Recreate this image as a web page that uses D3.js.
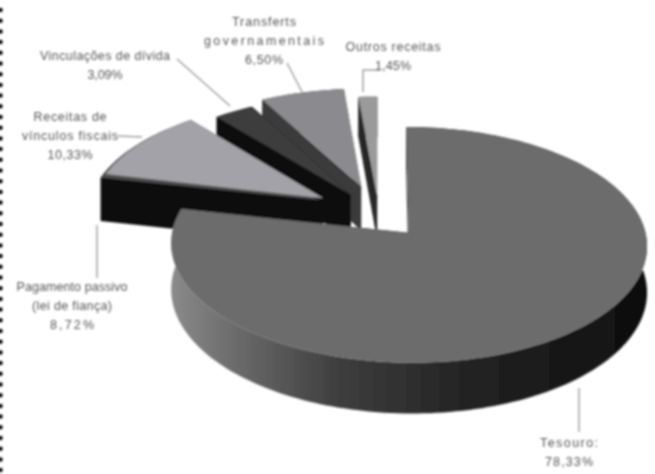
<!DOCTYPE html>
<html>
<head>
<meta charset="utf-8">
<script src="https://cdn.jsdelivr.net/npm/d3@7"></script>
<style>
  html, body { margin: 0; padding: 0; background: #fff; }
  text { font-family: "Liberation Sans", sans-serif; font-size: 12.5px; fill: #555; text-anchor: middle; }
</style>
</head>
<body>
<div id="wrapper"></div>
<script>
// values, they add up to more than 100 and the pie overlaps itself
const categories = [
  ["Outros receitas"],
  ["Transferts", "governamentais"],
  ["Vinculações de dívida"],
  ["Receitas de", "vínculos fiscais"],
  ["Pagamento passivo", "(lei de fiança)"],
  ["Tesouro:"],
]
const valueLabels = ["1,45%", "6,50%", "3,09%", "10,33%", "8,72%", "78,33%"]

// these four run back from 12 o'clock
const backValues = [1.45, 6.50, 3.09, 10.33]
// this one starts where the big slice ends and slides under Receitas
const pagamentoValue = 8.72
const tesouroValue = 78.33

// chart parameters
const width = 655, height = 474
const center = { x: 379, y: 215 }
const radiusX = 233, radiusZ = 113, depth = 45, perspective = 0.1

const backStyle = [
  { explode: 0.17, top: "#9a9a9a", side: "#262626" },
  { explode: 0.27, top: "#8b8b8f", side: "#3a3a3a" },
  { explode: 0.22, top: "#3c3c3c", side: "#111111" },
  { explode: 0.285, top: "#a2a2a8", side: "#111111" },
]
const pagamentoStyle = { explode: 0.29, top: "#4e4e4e", side: "#101010" }
const tesouroStyle = { explode: 0.20, top: "#6c6c6c" }

const labelLayout = [
  { x: 393, y: 51, widths: [95, 36], leader: [[380, 70], [363, 70], [363, 92]] },
  { x: 264, y: 26, widths: [64, 120, 38], leader: [[287, 63], [302, 92]] },
  { x: 105, y: 60, widths: [130, 35], leader: [[177, 59], [230, 106]] },
  { x: 70, y: 121, widths: [73, 96, 45], leader: [[118, 136], [142, 137]] },
  { x: 72, y: 291, widths: [111, 80, 44], leader: [[97, 225], [97, 278]] },
  { x: 569, y: 447, widths: [58, 48], leader: [[579, 388], [579, 432]] },
]

const svg = d3.select("#wrapper").append("svg")
  .attr("width", width)
  .attr("height", height)
  .style("display", "block")

const defs = svg.append("defs")
defs.append("filter").attr("id", "soft")
  .attr("x", "-5%").attr("y", "-5%").attr("width", "110%").attr("height", "110%")
  .append("feGaussianBlur").attr("stdDeviation", 0.8)

const sideGrad = defs.append("linearGradient").attr("id", "mainSide")
  .attr("gradientUnits", "userSpaceOnUse")
  .attr("x1", 172).attr("x2", 645).attr("y1", 0).attr("y2", 0)
sideGrad.selectAll("stop")
  .data([[0, "#8a8a8a"], [0.12, "#6e6e6e"], [0.35, "#3e3e3e"], [0.6, "#252525"], [1, "#0e0e0e"]])
  .join("stop")
  .attr("offset", d => d[0])
  .attr("stop-color", d => d[1])

// 1% is always 3.6 degrees here
const tau = Math.PI * 2
const backArcs = d3.pie().sort(null)
  .startAngle(tau)
  .endAngle(tau - tau * d3.sum(backValues) / 100)(backValues)
const tesouroArc = d3.pie().sort(null)
  .startAngle(0)
  .endAngle(tau * tesouroValue / 100)([tesouroValue])[0]
const pagamentoArc = d3.pie().sort(null)
  .startAngle(tesouroArc.endAngle)
  .endAngle(tesouroArc.endAngle + tau * pagamentoValue / 100)([pagamentoValue])[0]

// disc coordinates to screen, nearer points get a bit bigger
function project(X, Z, drop) {
  const w = 1 / (1 - perspective * Z)
  return [center.x + radiusX * X * w, center.y + radiusZ * Z * w + drop * w]
}

const line = d3.line()

function sliceShape(arc, style) {
  const mid = (arc.startAngle + arc.endAngle) / 2
  const ox = style.explode * Math.sin(mid)
  const oz = -style.explode * Math.cos(mid)
  const n = Math.max(4, Math.ceil(Math.abs(arc.endAngle - arc.startAngle) * 40))
  const angles = d3.range(n + 1).map(i => arc.startAngle + (arc.endAngle - arc.startAngle) * i / n)
  return {
    n,
    apex: drop => project(ox, oz, drop),
    rim: drop => angles.map(a => project(ox + Math.sin(a), oz - Math.cos(a), drop)),
  }
}

function drawWalls(g, arc, style, fill) {
  const s = sliceShape(arc, style)
  const rimTop = s.rim(0), rimBottom = s.rim(depth)
  g.append("path")
    .attr("d", line([s.apex(0), rimTop[0], rimBottom[0], s.apex(depth)]) + "Z")
    .attr("fill", fill)
  g.append("path")
    .attr("d", line([s.apex(0), rimTop[s.n], rimBottom[s.n], s.apex(depth)]) + "Z")
    .attr("fill", fill)
  g.append("path")
    .attr("d", line(rimTop.concat(rimBottom.slice().reverse())) + "Z")
    .attr("fill", fill)
}

function drawTop(g, arc, style) {
  const s = sliceShape(arc, style)
  g.append("path")
    .attr("d", line([s.apex(0)].concat(s.rim(0))) + "Z")
    .attr("fill", style.top)
}

const chart = svg.append("g").attr("filter", "url(#soft)")

// left page border
chart.append("line")
  .attr("x1", 0.5).attr("x2", 0.5).attr("y1", 10).attr("y2", height)
  .attr("stroke", "#000").attr("stroke-width", 4.5)
  .attr("stroke-linecap", "round").attr("stroke-dasharray", "0 10.7")

// leaders
chart.selectAll(".leader")
  .data(labelLayout)
  .join("path")
  .attr("class", "leader")
  .attr("d", d => line(d.leader))
  .attr("fill", "none")
  .attr("stroke", "#a0a0a0")
  .attr("stroke-width", 1.5)

// back to front, Pagamento sits between the walls and the top of Receitas
const slices = chart.append("g")
backArcs.forEach((arc, i) => {
  const g = slices.append("g")
  drawWalls(g, arc, backStyle[i], backStyle[i].side)
  if (i === 3) {
    drawWalls(g, pagamentoArc, pagamentoStyle, pagamentoStyle.side)
    drawTop(g, pagamentoArc, pagamentoStyle)
  }
  drawTop(g, arc, backStyle[i])
})
const front = slices.append("g")
drawWalls(front, tesouroArc, tesouroStyle, "url(#mainSide)")
drawTop(front, tesouroArc, tesouroStyle)

// labels
const text = chart.selectAll(".label")
  .data(labelLayout)
  .join("text")
  .attr("class", "label")
text.selectAll("tspan")
  .data((d, i) => categories[i].concat(valueLabels[i]).map((l, j) => ({ l, j, d })))
  .join("tspan")
  .attr("x", d => d.d.x)
  .attr("y", d => d.d.y + d.j * 19)
  .attr("textLength", d => d.d.widths[d.j])
  .attr("lengthAdjust", "spacing")
  .text(d => d.l)
</script>
</body>
</html>
